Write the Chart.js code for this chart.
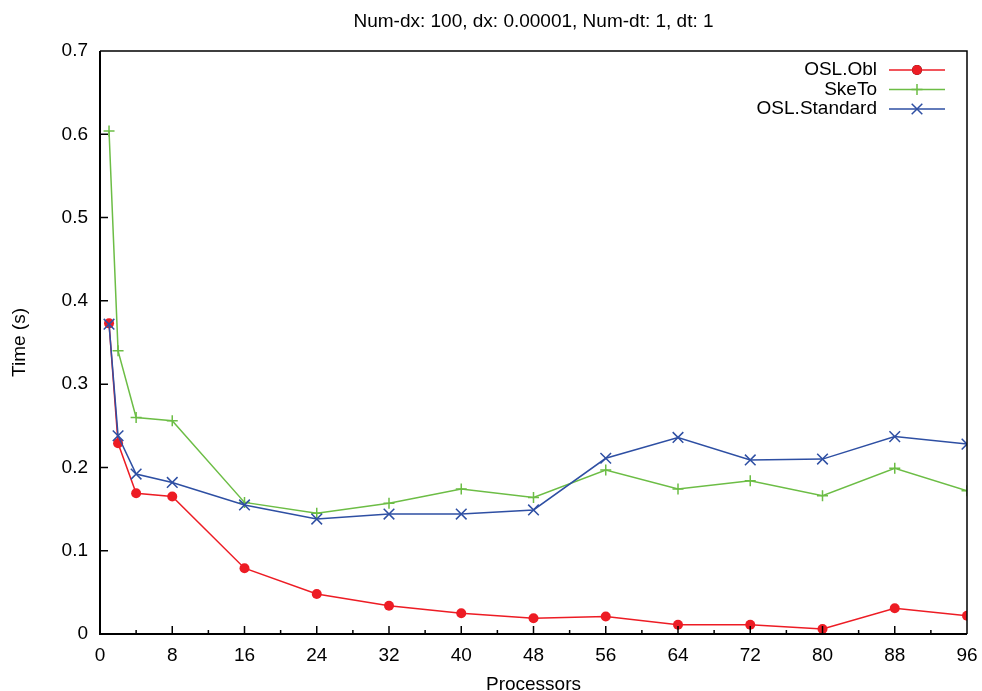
<!DOCTYPE html>
<html>
<head>
<meta charset="utf-8">
<script src="https://cdn.jsdelivr.net/npm/chart.js@4.4.0/dist/chart.umd.min.js"></script>
<style>
  html, body { margin: 0; padding: 0; background: #fff; }
  #wrap { width: 982px; height: 691px; }
</style>
</head>
<body>
<div id="wrap"><canvas id="timeChart" width="982" height="691"></canvas></div>
<script>
const ctx = document.getElementById("timeChart");

// processors (x values)
const procs = [1, 2, 4, 8, 16, 24, 32, 40, 48, 56, 64, 72, 80, 88, 96];
// times in seconds
const oslObl = [0.373, 0.229, 0.169, 0.165, 0.079, 0.048, 0.034, 0.025, 0.019, 0.021, 0.011, 0.011, 0.006, 0.031, 0.022];
const skeTo = [0.604, 0.340, 0.260, 0.256, 0.158, 0.145, 0.157, 0.174, 0.164, 0.197, 0.174, 0.184, 0.166, 0.199, 0.172];
const oslStandard = [0.372, 0.238, 0.192, 0.182, 0.155, 0.138, 0.144, 0.144, 0.149, 0.211, 0.236, 0.209, 0.210, 0.237, 0.228];

const xTicks = [0, 8, 16, 24, 32, 40, 48, 56, 64, 72, 80, 88, 96];
const yTicks = [0, 0.1, 0.2, 0.3, 0.4, 0.5, 0.6, 0.7];
const titleText = "Num-dx: 100, dx: 0.00001, Num-dt: 1, dt: 1";

const FONT = "'Liberation Sans', Arial, sans-serif";

function toPoints(ys) {
  return procs.map((p, i) => ({ x: p, y: ys[i] }));
}

// gnuplot-like frame, inward ticks, title over the plot area and legend
const framePlugin = {
  id: "frame",
  afterDraw(chart) {
    const c = chart.ctx;
    const a = chart.chartArea;
    const xs = chart.scales.x;
    const ys = chart.scales.y;
    c.save();
    c.strokeStyle = "#000";
    // ticks
    c.lineWidth = 1.5;
    c.beginPath();
    for (let v = 4; v < 96; v += 4) {
      const px = xs.getPixelForValue(v);
      const len = v % 8 === 0 ? 8 : 4;
      c.moveTo(px, a.bottom);
      c.lineTo(px, a.bottom - len);
    }
    for (let v = 1; v < 7; v++) {
      const py = ys.getPixelForValue(v / 10);
      c.moveTo(a.left, py);
      c.lineTo(a.left + 8, py);
    }
    c.stroke();
    // border
    c.lineWidth = 1.5;
    c.beginPath();
    c.moveTo(a.left, a.top);
    c.lineTo(a.right, a.top);
    c.lineTo(a.right, a.bottom);
    c.stroke();
    c.lineWidth = 2;
    c.beginPath();
    c.moveTo(a.left, a.top);
    c.lineTo(a.left, a.bottom);
    c.lineTo(a.right, a.bottom);
    c.stroke();

    // title
    c.font = "19px " + FONT;
    c.fillStyle = "#000";
    c.textAlign = "center";
    c.textBaseline = "middle";
    c.fillText(titleText, (a.left + a.right) / 2, 22);

    // legend, text right aligned with the sample after it
    c.textAlign = "right";
    chart.data.datasets.forEach((ds, i) => {
      const y = 70 + i * 19.5;
      c.fillStyle = "#000";
      c.fillText(ds.label, 877, y);
      c.strokeStyle = ds.borderColor;
      c.lineWidth = 1.5;
      c.beginPath();
      c.moveTo(889, y);
      c.lineTo(945, y);
      c.stroke();
      Chart.helpers.drawPoint(c, {
        pointStyle: ds.pointStyle,
        radius: ds.pointRadius,
        borderWidth: ds.pointBorderWidth,
        rotation: 0
      }, 917, y);
      if (ds.pointStyle === "circle") {
        c.fillStyle = ds.borderColor;
        c.beginPath();
        c.arc(917, y, ds.pointRadius, 0, Math.PI * 2);
        c.fill();
      }
    });
    c.restore();
  }
};

new Chart(ctx, {
  type: "line",
  data: {
    datasets: [
      {
        label: "OSL.Obl",
        data: toPoints(oslObl),
        borderColor: "#ed1c24",
        backgroundColor: "#ed1c24",
        borderWidth: 1.5,
        pointStyle: "circle",
        pointRadius: 5,
        pointBorderWidth: 0,
        order: 3,
      },
      {
        label: "SkeTo",
        data: toPoints(skeTo),
        borderColor: "#6cbd45",
        backgroundColor: "#6cbd45",
        borderWidth: 1.5,
        pointStyle: "cross",
        pointRadius: 5.5,
        pointBorderWidth: 1.5,
        order: 2,
      },
      {
        label: "OSL.Standard",
        data: toPoints(oslStandard),
        borderColor: "#2e4fa3",
        backgroundColor: "#2e4fa3",
        borderWidth: 1.5,
        pointStyle: "crossRot",
        pointRadius: 7.5,
        pointBorderWidth: 1.5,
        order: 1,
      },
    ],
  },
  options: {
    responsive: false,
    animation: false,
    layout: { padding: { left: 0, right: 15, top: 51, bottom: 0 } },
    plugins: {
      legend: { display: false },
      tooltip: { enabled: false },
      title: { display: false },
    },
    scales: {
      x: {
        type: "linear",
        min: 0,
        max: 96,
        afterFit(s) {
          s.height = 57;
          s.paddingLeft = 0;
          s.paddingRight = 0;
        },
        afterBuildTicks(s) { s.ticks = xTicks.map(v => ({ value: v })); },
        ticks: {
          color: "#000",
          font: { family: FONT, size: 19 },
          padding: 10,
          maxRotation: 0,
          autoSkip: false,
        },
        grid: { display: false, drawTicks: false },
        border: { display: false },
        title: {
          display: true,
          text: "Processors",
          color: "#000",
          font: { family: FONT, size: 19, lineHeight: 0.7 },
          padding: 0,
        },
      },
      y: {
        min: 0,
        max: 0.7,
        afterFit(s) {
          s.width = 100;
          s.paddingTop = 0;
          s.paddingBottom = 0;
        },
        afterBuildTicks(s) { s.ticks = yTicks.map(v => ({ value: v })); },
        ticks: {
          color: "#000",
          font: { family: FONT, size: 19 },
          padding: 12,
          callback: v => String(Math.round(v * 10) / 10),
        },
        grid: { display: false, drawTicks: false },
        border: { display: false },
        title: {
          display: true,
          text: "Time (s)",
          color: "#000",
          font: { family: FONT, size: 19, lineHeight: 1 },
          padding: 10,
        },
      },
    },
  },
  plugins: [framePlugin],
});
</script>
</body>
</html>
